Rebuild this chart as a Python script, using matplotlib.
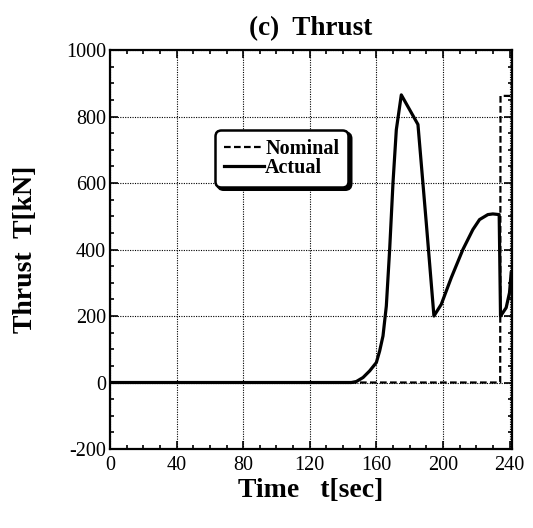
import matplotlib
matplotlib.use("Agg")
from matplotlib import pyplot as plt
from matplotlib.ticker import MultipleLocator

# values
t_actual = [0, 40, 80, 120, 145, 148, 152, 156, 160, 162, 164, 166, 168, 170, 172, 175,
            185, 190, 194.6, 199, 205, 212, 218, 222, 227, 230, 233.8, 234.6, 236, 238, 240, 241]
thrust_actual = [0, 0, 0, 0, 0, 3, 15, 35, 60, 95, 140, 230, 400, 600, 760, 865,
                 776, 480, 200, 235, 315, 400, 460, 490, 505, 507, 505, 200, 210, 225, 270, 330]

t_nominal = [0, 148, 234.4, 234.6, 241]
thrust_nominal = [0, 0, 0, 862, 862]

x_ticks = [0, 40, 80, 120, 160, 200, 240]
y_ticks = [-200, 0, 200, 400, 600, 800, 1000]

plt.rcParams['font.family'] = ['Liberation Serif', 'DejaVu Serif']
plt.rcParams['axes.unicode_minus'] = False

fig = plt.figure(figsize=(5.33, 5.28), dpi=100)
ax = fig.add_axes([0.2064, 0.1496, 0.7542, 0.7557])

ax.plot(t_nominal, thrust_nominal, color='black', lw=1.6, ls=(0, (3, 1.5)), label='Nominal')
ax.plot(t_actual, thrust_actual, color='black', lw=2.3, label='Actual')

ax.set_xlim(0, 241.5)
ax.set_ylim(-200, 1000)
ax.set_xticks(x_ticks)
ax.set_yticks(y_ticks)
ax.xaxis.set_minor_locator(MultipleLocator(10))
ax.yaxis.set_minor_locator(MultipleLocator(50))
ax.tick_params(which='both', direction='in', top=True, right=True, labelsize=14.5, width=1.2)
ax.tick_params(which='major', length=6)
ax.tick_params(which='minor', length=3)
ax.tick_params(axis='x', pad=5)
ax.tick_params(axis='y', pad=3)
for s in ax.spines.values():
    s.set_linewidth(1.6)

ax.grid(True, which='major', color='black', ls=(0, (1, 1.2)), lw=0.8)

ax.set_title('(c)  Thrust', fontsize=19.5, fontweight='bold', pad=11)
ax.set_xlabel('Time   t[sec]', fontsize=20, fontweight='bold', labelpad=2)
ax.set_ylabel('Thrust  T[kN]', fontsize=20, fontweight='bold', labelpad=20)

leg = ax.legend(loc='upper left', bbox_to_anchor=(0.246, 0.815),
                handlelength=2.0, handletextpad=0.05, borderpad=0.25, labelspacing=-0.05,
                fancybox=True, framealpha=1, edgecolor='black',
                prop={'weight': 'bold', 'size': 14.5},
                shadow={'color': 'black', 'alpha': 1, 'ox': 2, 'oy': -2})
leg.get_frame().set_linewidth(1.8)
leg.get_frame().set_boxstyle('round', pad=0.2, rounding_size=0.3)

fig.savefig('out.png', dpi=100)
